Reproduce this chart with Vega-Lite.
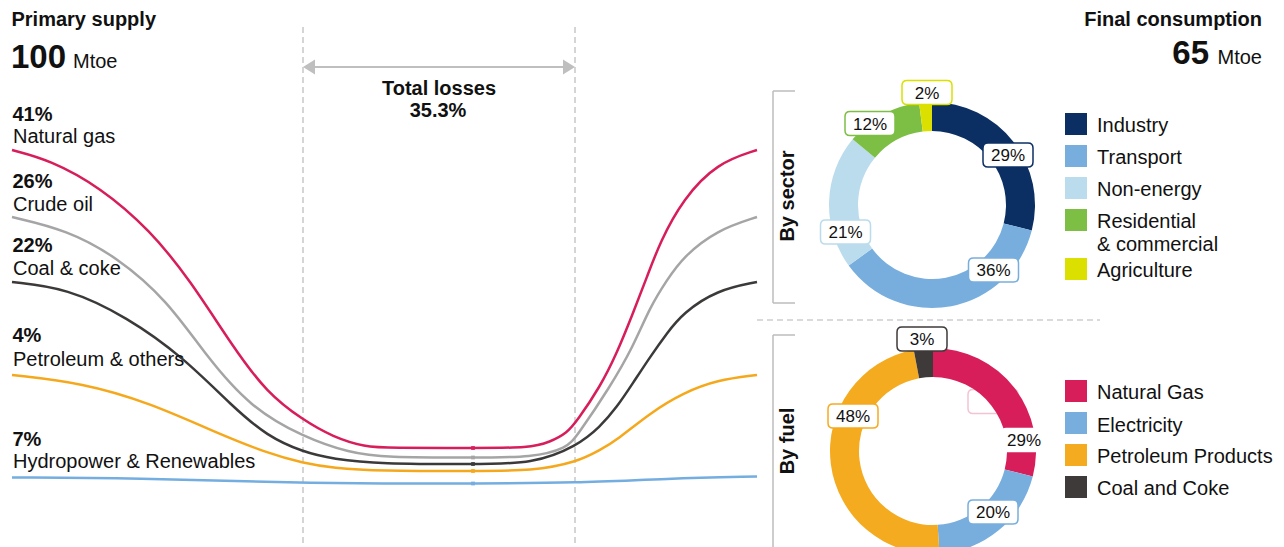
{
  "$schema": "https://vega.github.io/schema/vega-lite/v6.json",
  "width": 1284,
  "height": 547,
  "autosize": {"type": "none"},
  "padding": 0,
  "background": "white",
  "config": {"view": {"stroke": null}, "font": "Liberation Sans"},
  "datasets": {
    "lines": [
      {"series": "Natural gas", "x": 12, "y": 150}, {"series": "Natural gas", "x": 50, "y": 160}, {"series": "Natural gas", "x": 100, "y": 187}, {"series": "Natural gas", "x": 150, "y": 230}, {"series": "Natural gas", "x": 190, "y": 280}, {"series": "Natural gas", "x": 233, "y": 347}, {"series": "Natural gas", "x": 267, "y": 393}, {"series": "Natural gas", "x": 303, "y": 420}, {"series": "Natural gas", "x": 333, "y": 437}, {"series": "Natural gas", "x": 365, "y": 447}, {"series": "Natural gas", "x": 390, "y": 448}, {"series": "Natural gas", "x": 473, "y": 448}, {"series": "Natural gas", "x": 530, "y": 448}, {"series": "Natural gas", "x": 550, "y": 442}, {"series": "Natural gas", "x": 567, "y": 433}, {"series": "Natural gas", "x": 577, "y": 421}, {"series": "Natural gas", "x": 600, "y": 387}, {"series": "Natural gas", "x": 617, "y": 353}, {"series": "Natural gas", "x": 633, "y": 313}, {"series": "Natural gas", "x": 647, "y": 277}, {"series": "Natural gas", "x": 660, "y": 242}, {"series": "Natural gas", "x": 683, "y": 199}, {"series": "Natural gas", "x": 717, "y": 163}, {"series": "Natural gas", "x": 757, "y": 150},
      {"series": "Crude oil", "x": 12, "y": 217}, {"series": "Crude oil", "x": 67, "y": 230}, {"series": "Crude oil", "x": 117, "y": 257}, {"series": "Crude oil", "x": 167, "y": 300}, {"series": "Crude oil", "x": 207, "y": 357}, {"series": "Crude oil", "x": 250, "y": 407}, {"series": "Crude oil", "x": 303, "y": 437}, {"series": "Crude oil", "x": 350, "y": 453}, {"series": "Crude oil", "x": 385, "y": 457.5}, {"series": "Crude oil", "x": 473, "y": 457.5}, {"series": "Crude oil", "x": 533, "y": 457.5}, {"series": "Crude oil", "x": 567, "y": 448}, {"series": "Crude oil", "x": 577, "y": 436}, {"series": "Crude oil", "x": 610, "y": 387}, {"series": "Crude oil", "x": 633, "y": 347}, {"series": "Crude oil", "x": 650, "y": 307}, {"series": "Crude oil", "x": 667, "y": 280}, {"series": "Crude oil", "x": 683, "y": 257}, {"series": "Crude oil", "x": 717, "y": 230}, {"series": "Crude oil", "x": 757, "y": 217},
      {"series": "Coal & coke", "x": 12, "y": 282}, {"series": "Coal & coke", "x": 67, "y": 288}, {"series": "Coal & coke", "x": 127, "y": 317}, {"series": "Coal & coke", "x": 183, "y": 357}, {"series": "Coal & coke", "x": 233, "y": 407}, {"series": "Coal & coke", "x": 267, "y": 436}, {"series": "Coal & coke", "x": 303, "y": 452}, {"series": "Coal & coke", "x": 333, "y": 459}, {"series": "Coal & coke", "x": 380, "y": 464}, {"series": "Coal & coke", "x": 473, "y": 464}, {"series": "Coal & coke", "x": 533, "y": 464}, {"series": "Coal & coke", "x": 577, "y": 446}, {"series": "Coal & coke", "x": 600, "y": 427}, {"series": "Coal & coke", "x": 617, "y": 407}, {"series": "Coal & coke", "x": 633, "y": 383}, {"series": "Coal & coke", "x": 650, "y": 357}, {"series": "Coal & coke", "x": 667, "y": 333}, {"series": "Coal & coke", "x": 683, "y": 313}, {"series": "Coal & coke", "x": 717, "y": 290}, {"series": "Coal & coke", "x": 757, "y": 282},
      {"series": "Petroleum & others", "x": 12, "y": 375}, {"series": "Petroleum & others", "x": 83, "y": 383}, {"series": "Petroleum & others", "x": 150, "y": 403}, {"series": "Petroleum & others", "x": 217, "y": 433}, {"series": "Petroleum & others", "x": 267, "y": 453}, {"series": "Petroleum & others", "x": 303, "y": 463}, {"series": "Petroleum & others", "x": 333, "y": 468}, {"series": "Petroleum & others", "x": 380, "y": 471}, {"series": "Petroleum & others", "x": 473, "y": 471}, {"series": "Petroleum & others", "x": 533, "y": 471}, {"series": "Petroleum & others", "x": 577, "y": 462}, {"series": "Petroleum & others", "x": 600, "y": 450}, {"series": "Petroleum & others", "x": 617, "y": 440}, {"series": "Petroleum & others", "x": 650, "y": 413}, {"series": "Petroleum & others", "x": 683, "y": 393}, {"series": "Petroleum & others", "x": 717, "y": 380}, {"series": "Petroleum & others", "x": 757, "y": 375},
      {"series": "Hydropower & Renewables", "x": 12, "y": 477.5}, {"series": "Hydropower & Renewables", "x": 133, "y": 478}, {"series": "Hydropower & Renewables", "x": 303, "y": 483}, {"series": "Hydropower & Renewables", "x": 380, "y": 483.5}, {"series": "Hydropower & Renewables", "x": 473, "y": 483.5}, {"series": "Hydropower & Renewables", "x": 577, "y": 483}, {"series": "Hydropower & Renewables", "x": 667, "y": 478.5}, {"series": "Hydropower & Renewables", "x": 757, "y": 476.5}
    ],
    "sector": [
      {"cat": "Industry", "value": 29, "i": 1},
      {"cat": "Transport", "value": 36, "i": 2},
      {"cat": "Non-energy", "value": 21, "i": 3},
      {"cat": "Residential & commercial", "value": 12, "i": 4},
      {"cat": "Agriculture", "value": 2, "i": 5}
    ],
    "fuel": [
      {"cat": "Natural Gas", "value": 29, "i": 1},
      {"cat": "Electricity", "value": 20, "i": 2},
      {"cat": "Petroleum Products", "value": 48, "i": 3},
      {"cat": "Coal and Coke", "value": 3, "i": 4}
    ],
    "boxLabels": [
      {"cat": "Industry", "t": "29%", "x": 1008, "y": 155},
      {"cat": "Transport", "t": "36%", "x": 993.5, "y": 270},
      {"cat": "Non-energy", "t": "21%", "x": 845.5, "y": 232},
      {"cat": "Residential & commercial", "t": "12%", "x": 870, "y": 123.5},
      {"cat": "Agriculture", "t": "2%", "x": 927, "y": 92.5},
      {"cat": "Coal and Coke", "t": "3%", "x": 922, "y": 339},
      {"cat": "Petroleum Products", "t": "48%", "x": 853, "y": 416},
      {"cat": "Electricity", "t": "20%", "x": 993, "y": 512}
    ],
    "plainLabels": [
      {"cat": "Natural Gas", "t": "29%", "x": 1024, "y": 440}
    ],
    "ghost": [
      {"cat": "Natural Gas", "x": 993, "y": 401.5}
    ],
    "legendSq": [
      {"cat": "Industry", "x": 1076, "y": 124},
      {"cat": "Transport", "x": 1076, "y": 156},
      {"cat": "Non-energy", "x": 1076, "y": 188},
      {"cat": "Residential & commercial", "x": 1076, "y": 220},
      {"cat": "Agriculture", "x": 1076, "y": 269},
      {"cat": "Natural Gas", "x": 1076, "y": 391},
      {"cat": "Electricity", "x": 1076, "y": 423},
      {"cat": "Petroleum Products", "x": 1076, "y": 455},
      {"cat": "Coal and Coke", "x": 1076, "y": 487}
    ],
    "boldLeft": [
      {"t": "Primary supply", "x": 11.5, "y": 26},
      {"t": "41%", "x": 12.5, "y": 121},
      {"t": "26%", "x": 12.5, "y": 188},
      {"t": "22%", "x": 12.5, "y": 252},
      {"t": "4%", "x": 12.5, "y": 342},
      {"t": "7%", "x": 12.5, "y": 446}
    ],
    "regularLeft": [
      {"t": "Natural gas", "x": 13, "y": 143},
      {"t": "Crude oil", "x": 13, "y": 211},
      {"t": "Coal & coke", "x": 13, "y": 275},
      {"t": "Petroleum & others", "x": 13, "y": 366},
      {"t": "Hydropower & Renewables", "x": 13, "y": 468},
      {"t": "Mtoe", "x": 73, "y": 68},
      {"t": "Industry", "x": 1097, "y": 132},
      {"t": "Transport", "x": 1097, "y": 164},
      {"t": "Non-energy", "x": 1097, "y": 196},
      {"t": "Residential", "x": 1097, "y": 228},
      {"t": "& commercial", "x": 1097, "y": 251},
      {"t": "Agriculture", "x": 1097, "y": 277},
      {"t": "Natural Gas", "x": 1097, "y": 399},
      {"t": "Electricity", "x": 1097, "y": 432},
      {"t": "Petroleum Products", "x": 1097, "y": 463},
      {"t": "Coal and Coke", "x": 1097, "y": 495}
    ],
    "boldCenter": [
      {"t": "Total losses", "x": 439, "y": 95},
      {"t": "35.3%", "x": 438, "y": 117}
    ],
    "boldRight": [{"t": "Final consumption", "x": 1262, "y": 26}],
    "regularRight": [{"t": "Mtoe", "x": 1262, "y": 64}],
    "bigLeft": [{"t": "100", "x": 11, "y": 68}],
    "bigRight": [{"t": "65", "x": 1209, "y": 64}],
    "rotated": [
      {"t": "By sector", "x": 788, "y": 196},
      {"t": "By fuel", "x": 788, "y": 441}
    ],
    "dashV": [
      {"x": 303, "y": 27, "y2": 547},
      {"x": 575, "y": 27, "y2": 547}
    ],
    "dashH": [{"x": 757, "x2": 1100, "y": 320}],
    "arrowLine": [{"x": 305, "x2": 573, "y": 67}],
    "arrowHeads": [
      {"dir": "left", "x": 309, "y": 67},
      {"dir": "right", "x": 569, "y": 67}
    ],
    "bracketV": [
      {"x": 773, "y": 91, "y2": 303},
      {"x": 773, "y": 335, "y2": 547}
    ],
    "bracketH": [
      {"x": 773, "x2": 795, "y": 91},
      {"x": 773, "x2": 795, "y": 303},
      {"x": 773, "x2": 795, "y": 335}
    ]
  },
  "layer": [
    {
      "data": {"name": "dashV"},
      "mark": {"type": "rule", "color": "#ababab", "strokeWidth": 1, "strokeDash": [6, 4]},
      "encoding": {
        "x": {"field": "x", "type": "quantitative", "scale": {"domain": [0, 1284], "nice": false, "zero": false}, "axis": null},
        "y": {"field": "y", "type": "quantitative", "scale": {"domain": [0, 547], "nice": false, "zero": false, "reverse": true}, "axis": null},
        "y2": {"field": "y2"}
      }
    },
    {
      "data": {"name": "dashH"},
      "mark": {"type": "rule", "color": "#b5b5b5", "strokeWidth": 1, "strokeDash": [6, 4]},
      "encoding": {
        "x": {"field": "x", "type": "quantitative", "scale": {"domain": [0, 1284], "nice": false, "zero": false}, "axis": null},
        "y": {"field": "y", "type": "quantitative", "scale": {"domain": [0, 547], "nice": false, "zero": false, "reverse": true}, "axis": null},
        "x2": {"field": "x2"}
      }
    },
    {
      "data": {"name": "arrowLine"},
      "mark": {"type": "rule", "color": "#bfbfbf", "strokeWidth": 2},
      "encoding": {
        "x": {"field": "x", "type": "quantitative", "scale": {"domain": [0, 1284], "nice": false, "zero": false}, "axis": null},
        "y": {"field": "y", "type": "quantitative", "scale": {"domain": [0, 547], "nice": false, "zero": false, "reverse": true}, "axis": null},
        "x2": {"field": "x2"}
      }
    },
    {
      "data": {"name": "arrowHeads"},
      "mark": {"type": "point", "filled": true, "opacity": 1, "size": 144, "color": "#bfbfbf"},
      "encoding": {
        "x": {"field": "x", "type": "quantitative", "scale": {"domain": [0, 1284], "nice": false, "zero": false}, "axis": null},
        "y": {"field": "y", "type": "quantitative", "scale": {"domain": [0, 547], "nice": false, "zero": false, "reverse": true}, "axis": null},
        "shape": {"field": "dir", "type": "nominal", "legend": null,
          "scale": {"domain": ["left", "right"], "range": ["M -1 0 L 1 -1.25 L 1 1.25 Z", "M 1 0 L -1 -1.25 L -1 1.25 Z"]}}
      }
    },
    {
      "data": {"name": "bracketV"},
      "mark": {"type": "rule", "color": "#bdbdbd", "strokeWidth": 1.5},
      "encoding": {
        "x": {"field": "x", "type": "quantitative", "scale": {"domain": [0, 1284], "nice": false, "zero": false}, "axis": null},
        "y": {"field": "y", "type": "quantitative", "scale": {"domain": [0, 547], "nice": false, "zero": false, "reverse": true}, "axis": null},
        "y2": {"field": "y2"}
      }
    },
    {
      "data": {"name": "bracketH"},
      "mark": {"type": "rule", "color": "#bdbdbd", "strokeWidth": 1.5},
      "encoding": {
        "x": {"field": "x", "type": "quantitative", "scale": {"domain": [0, 1284], "nice": false, "zero": false}, "axis": null},
        "y": {"field": "y", "type": "quantitative", "scale": {"domain": [0, 547], "nice": false, "zero": false, "reverse": true}, "axis": null},
        "x2": {"field": "x2"}
      }
    },
    {
      "data": {"name": "lines"},
      "mark": {"type": "line", "interpolate": "basis", "strokeWidth": 2.5},
      "encoding": {
        "x": {"field": "x", "type": "quantitative", "scale": {"domain": [0, 1284], "nice": false, "zero": false}, "axis": null},
        "y": {"field": "y", "type": "quantitative", "scale": {"domain": [0, 547], "nice": false, "zero": false, "reverse": true}, "axis": null},
        "color": {"field": "series", "type": "nominal", "legend": null,
          "scale": {"domain": ["Natural gas", "Crude oil", "Coal & coke", "Petroleum & others", "Hydropower & Renewables", "Industry", "Transport", "Non-energy", "Residential & commercial", "Agriculture", "Natural Gas", "Electricity", "Petroleum Products", "Coal and Coke"],
                    "range": ["#d71e5a", "#a5a5a5", "#3c3939", "#f5a81c", "#74ade0", "#0c2f63", "#78aedd", "#bbdcec", "#7dbe45", "#dbe000", "#d71e5a", "#78aedd", "#f5ab1f", "#3e3a39"]}},
        "order": {"field": "x", "type": "quantitative"}
      }
    },
    {
      "data": {"name": "lines"},
      "transform": [{"filter": "datum.x == 473"}],
      "mark": {"type": "point", "filled": true, "opacity": 1, "size": 14, "shape": "square"},
      "encoding": {
        "x": {"field": "x", "type": "quantitative", "scale": {"domain": [0, 1284], "nice": false, "zero": false}, "axis": null},
        "y": {"field": "y", "type": "quantitative", "scale": {"domain": [0, 547], "nice": false, "zero": false, "reverse": true}, "axis": null},
        "color": {"field": "series", "type": "nominal", "legend": null,
          "scale": {"domain": ["Natural gas", "Crude oil", "Coal & coke", "Petroleum & others", "Hydropower & Renewables", "Industry", "Transport", "Non-energy", "Residential & commercial", "Agriculture", "Natural Gas", "Electricity", "Petroleum Products", "Coal and Coke"],
                    "range": ["#d71e5a", "#a5a5a5", "#3c3939", "#f5a81c", "#74ade0", "#0c2f63", "#78aedd", "#bbdcec", "#7dbe45", "#dbe000", "#d71e5a", "#78aedd", "#f5ab1f", "#3e3a39"]}}
      }
    },
    {
      "data": {"name": "ghost"},
      "mark": {"type": "point", "filled": true, "opacity": 1, "fill": "white", "stroke": "#f2c4d3", "strokeWidth": 1.5, "size": 2500,
        "shape": "M -0.8 -0.48 L 0.8 -0.48 Q 1 -0.48 1 -0.28 L 1 0.28 Q 1 0.48 0.8 0.48 L -0.8 0.48 Q -1 0.48 -1 0.28 L -1 -0.28 Q -1 -0.48 -0.8 -0.48 Z"},
      "encoding": {
        "x": {"field": "x", "type": "quantitative", "scale": {"domain": [0, 1284], "nice": false, "zero": false}, "axis": null},
        "y": {"field": "y", "type": "quantitative", "scale": {"domain": [0, 547], "nice": false, "zero": false, "reverse": true}, "axis": null}
      }
    },
    {
      "data": {"name": "sector"},
      "transform": [{"stack": "value", "groupby": [], "sort": [{"field": "i", "order": "ascending"}], "as": ["v0", "v1"]}],
      "mark": {"type": "arc", "outerRadius": 103, "innerRadius": 74},
      "encoding": {
        "x": {"datum": 932, "type": "quantitative", "scale": {"domain": [0, 1284], "nice": false, "zero": false}, "axis": null},
        "y": {"datum": 205, "type": "quantitative", "scale": {"domain": [0, 547], "nice": false, "zero": false, "reverse": true}, "axis": null},
        "theta": {"field": "v0", "type": "quantitative", "stack": null, "scale": {"domain": [0, 100]}},
        "theta2": {"field": "v1"},
        "color": {"field": "cat", "type": "nominal", "legend": null,
          "scale": {"domain": ["Natural gas", "Crude oil", "Coal & coke", "Petroleum & others", "Hydropower & Renewables", "Industry", "Transport", "Non-energy", "Residential & commercial", "Agriculture", "Natural Gas", "Electricity", "Petroleum Products", "Coal and Coke"],
                    "range": ["#d71e5a", "#a5a5a5", "#3c3939", "#f5a81c", "#74ade0", "#0c2f63", "#78aedd", "#bbdcec", "#7dbe45", "#dbe000", "#d71e5a", "#78aedd", "#f5ab1f", "#3e3a39"]}}
      }
    },
    {
      "data": {"name": "fuel"},
      "transform": [{"stack": "value", "groupby": [], "sort": [{"field": "i", "order": "ascending"}], "as": ["v0", "v1"]}],
      "mark": {"type": "arc", "outerRadius": 103, "innerRadius": 74},
      "encoding": {
        "x": {"datum": 933, "type": "quantitative", "scale": {"domain": [0, 1284], "nice": false, "zero": false}, "axis": null},
        "y": {"datum": 451, "type": "quantitative", "scale": {"domain": [0, 547], "nice": false, "zero": false, "reverse": true}, "axis": null},
        "theta": {"field": "v0", "type": "quantitative", "stack": null, "scale": {"domain": [0, 100]}},
        "theta2": {"field": "v1"},
        "color": {"field": "cat", "type": "nominal", "legend": null,
          "scale": {"domain": ["Natural gas", "Crude oil", "Coal & coke", "Petroleum & others", "Hydropower & Renewables", "Industry", "Transport", "Non-energy", "Residential & commercial", "Agriculture", "Natural Gas", "Electricity", "Petroleum Products", "Coal and Coke"],
                    "range": ["#d71e5a", "#a5a5a5", "#3c3939", "#f5a81c", "#74ade0", "#0c2f63", "#78aedd", "#bbdcec", "#7dbe45", "#dbe000", "#d71e5a", "#78aedd", "#f5ab1f", "#3e3a39"]}}
      }
    },
    {
      "data": {"name": "plainLabels"},
      "mark": {"type": "point", "filled": true, "opacity": 1, "fill": "white", "strokeWidth": 0, "size": 2000,
        "shape": "M -0.8 -0.55 L 0.8 -0.55 Q 1 -0.55 1 -0.35 L 1 0.35 Q 1 0.55 0.8 0.55 L -0.8 0.55 Q -1 0.55 -1 0.35 L -1 -0.35 Q -1 -0.55 -0.8 -0.55 Z"},
      "encoding": {
        "x": {"field": "x", "type": "quantitative", "scale": {"domain": [0, 1284], "nice": false, "zero": false}, "axis": null},
        "y": {"field": "y", "type": "quantitative", "scale": {"domain": [0, 547], "nice": false, "zero": false, "reverse": true}, "axis": null}
      }
    },
    {
      "data": {"name": "boxLabels"},
      "mark": {"type": "point", "filled": true, "opacity": 1, "fill": "white", "strokeWidth": 1.5, "size": 2500,
        "shape": "M -0.8 -0.48 L 0.8 -0.48 Q 1 -0.48 1 -0.28 L 1 0.28 Q 1 0.48 0.8 0.48 L -0.8 0.48 Q -1 0.48 -1 0.28 L -1 -0.28 Q -1 -0.48 -0.8 -0.48 Z"},
      "encoding": {
        "x": {"field": "x", "type": "quantitative", "scale": {"domain": [0, 1284], "nice": false, "zero": false}, "axis": null},
        "y": {"field": "y", "type": "quantitative", "scale": {"domain": [0, 547], "nice": false, "zero": false, "reverse": true}, "axis": null},
        "stroke": {"field": "cat", "type": "nominal", "legend": null,
          "scale": {"domain": ["Natural gas", "Crude oil", "Coal & coke", "Petroleum & others", "Hydropower & Renewables", "Industry", "Transport", "Non-energy", "Residential & commercial", "Agriculture", "Natural Gas", "Electricity", "Petroleum Products", "Coal and Coke"],
                    "range": ["#d71e5a", "#a5a5a5", "#3c3939", "#f5a81c", "#74ade0", "#0c2f63", "#78aedd", "#bbdcec", "#7dbe45", "#dbe000", "#d71e5a", "#78aedd", "#f5ab1f", "#3e3a39"]}}
      }
    },
    {
      "data": {"name": "boxLabels"},
      "mark": {"type": "text", "fontSize": 17, "align": "center", "baseline": "middle", "dy": 1, "color": "#111111"},
      "encoding": {
        "x": {"field": "x", "type": "quantitative", "scale": {"domain": [0, 1284], "nice": false, "zero": false}, "axis": null},
        "y": {"field": "y", "type": "quantitative", "scale": {"domain": [0, 547], "nice": false, "zero": false, "reverse": true}, "axis": null},
        "text": {"field": "t"}
      }
    },
    {
      "data": {"name": "plainLabels"},
      "mark": {"type": "text", "fontSize": 17, "align": "center", "baseline": "middle", "dy": 1, "color": "#111111"},
      "encoding": {
        "x": {"field": "x", "type": "quantitative", "scale": {"domain": [0, 1284], "nice": false, "zero": false}, "axis": null},
        "y": {"field": "y", "type": "quantitative", "scale": {"domain": [0, 547], "nice": false, "zero": false, "reverse": true}, "axis": null},
        "text": {"field": "t"}
      }
    },
    {
      "data": {"name": "legendSq"},
      "mark": {"type": "point", "shape": "square", "filled": true, "opacity": 1, "size": 484},
      "encoding": {
        "x": {"field": "x", "type": "quantitative", "scale": {"domain": [0, 1284], "nice": false, "zero": false}, "axis": null},
        "y": {"field": "y", "type": "quantitative", "scale": {"domain": [0, 547], "nice": false, "zero": false, "reverse": true}, "axis": null},
        "color": {"field": "cat", "type": "nominal", "legend": null,
          "scale": {"domain": ["Natural gas", "Crude oil", "Coal & coke", "Petroleum & others", "Hydropower & Renewables", "Industry", "Transport", "Non-energy", "Residential & commercial", "Agriculture", "Natural Gas", "Electricity", "Petroleum Products", "Coal and Coke"],
                    "range": ["#d71e5a", "#a5a5a5", "#3c3939", "#f5a81c", "#74ade0", "#0c2f63", "#78aedd", "#bbdcec", "#7dbe45", "#dbe000", "#d71e5a", "#78aedd", "#f5ab1f", "#3e3a39"]}}
      }
    },
    {
      "data": {"name": "boldLeft"},
      "mark": {"type": "text", "fontSize": 20, "fontWeight": "bold", "align": "left", "baseline": "alphabetic", "color": "#111111"},
      "encoding": {
        "x": {"field": "x", "type": "quantitative", "scale": {"domain": [0, 1284], "nice": false, "zero": false}, "axis": null},
        "y": {"field": "y", "type": "quantitative", "scale": {"domain": [0, 547], "nice": false, "zero": false, "reverse": true}, "axis": null},
        "text": {"field": "t"}
      }
    },
    {
      "data": {"name": "regularLeft"},
      "mark": {"type": "text", "fontSize": 20, "align": "left", "baseline": "alphabetic", "color": "#111111"},
      "encoding": {
        "x": {"field": "x", "type": "quantitative", "scale": {"domain": [0, 1284], "nice": false, "zero": false}, "axis": null},
        "y": {"field": "y", "type": "quantitative", "scale": {"domain": [0, 547], "nice": false, "zero": false, "reverse": true}, "axis": null},
        "text": {"field": "t"}
      }
    },
    {
      "data": {"name": "boldCenter"},
      "mark": {"type": "text", "fontSize": 20, "fontWeight": "bold", "align": "center", "baseline": "alphabetic", "color": "#111111"},
      "encoding": {
        "x": {"field": "x", "type": "quantitative", "scale": {"domain": [0, 1284], "nice": false, "zero": false}, "axis": null},
        "y": {"field": "y", "type": "quantitative", "scale": {"domain": [0, 547], "nice": false, "zero": false, "reverse": true}, "axis": null},
        "text": {"field": "t"}
      }
    },
    {
      "data": {"name": "boldRight"},
      "mark": {"type": "text", "fontSize": 20, "fontWeight": "bold", "align": "right", "baseline": "alphabetic", "color": "#111111"},
      "encoding": {
        "x": {"field": "x", "type": "quantitative", "scale": {"domain": [0, 1284], "nice": false, "zero": false}, "axis": null},
        "y": {"field": "y", "type": "quantitative", "scale": {"domain": [0, 547], "nice": false, "zero": false, "reverse": true}, "axis": null},
        "text": {"field": "t"}
      }
    },
    {
      "data": {"name": "regularRight"},
      "mark": {"type": "text", "fontSize": 20, "align": "right", "baseline": "alphabetic", "color": "#111111"},
      "encoding": {
        "x": {"field": "x", "type": "quantitative", "scale": {"domain": [0, 1284], "nice": false, "zero": false}, "axis": null},
        "y": {"field": "y", "type": "quantitative", "scale": {"domain": [0, 547], "nice": false, "zero": false, "reverse": true}, "axis": null},
        "text": {"field": "t"}
      }
    },
    {
      "data": {"name": "bigLeft"},
      "mark": {"type": "text", "fontSize": 33, "fontWeight": "bold", "align": "left", "baseline": "alphabetic", "color": "#111111"},
      "encoding": {
        "x": {"field": "x", "type": "quantitative", "scale": {"domain": [0, 1284], "nice": false, "zero": false}, "axis": null},
        "y": {"field": "y", "type": "quantitative", "scale": {"domain": [0, 547], "nice": false, "zero": false, "reverse": true}, "axis": null},
        "text": {"field": "t"}
      }
    },
    {
      "data": {"name": "bigRight"},
      "mark": {"type": "text", "fontSize": 33, "fontWeight": "bold", "align": "right", "baseline": "alphabetic", "color": "#111111"},
      "encoding": {
        "x": {"field": "x", "type": "quantitative", "scale": {"domain": [0, 1284], "nice": false, "zero": false}, "axis": null},
        "y": {"field": "y", "type": "quantitative", "scale": {"domain": [0, 547], "nice": false, "zero": false, "reverse": true}, "axis": null},
        "text": {"field": "t"}
      }
    },
    {
      "data": {"name": "rotated"},
      "mark": {"type": "text", "fontSize": 20, "fontWeight": "bold", "align": "center", "baseline": "middle", "angle": 270, "color": "#111111"},
      "encoding": {
        "x": {"field": "x", "type": "quantitative", "scale": {"domain": [0, 1284], "nice": false, "zero": false}, "axis": null},
        "y": {"field": "y", "type": "quantitative", "scale": {"domain": [0, 547], "nice": false, "zero": false, "reverse": true}, "axis": null},
        "text": {"field": "t"}
      }
    }
  ]
}
